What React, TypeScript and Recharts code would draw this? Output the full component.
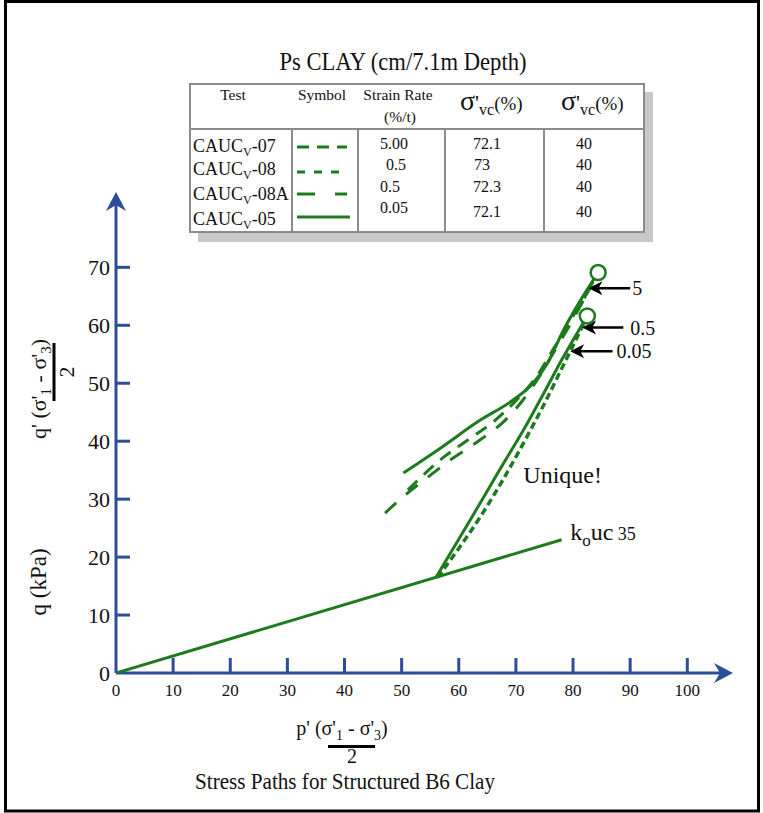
import React from 'react';
import { LineChart, Line, XAxis, YAxis, ReferenceLine, ReferenceDot } from 'recharts';

const GREEN = '#1d7a1d';
const BLUE = '#2d4c9a';
const SERIF = '"Liberation Serif", "Times New Roman", Times, serif';
const serifStyle = { fontFamily: SERIF };

// ---- axis ticks ----
const xTicks = [0, 10, 20, 30, 40, 50, 60, 70, 80, 90, 100];
const yTicks = [0, 10, 20, 30, 40, 50, 60, 70];

// ---- stress paths (p', q') ----
const koLine = [
  { x: 0, y: 0 },
  { x: 78, y: 23 },
];
const pathSolidUpper = [
  { x: 50.3, y: 34.5 },
  { x: 56.2, y: 38.4 },
  { x: 63.7, y: 43.6 },
  { x: 69.5, y: 47.1 },
  { x: 73.0, y: 50.0 },
  { x: 75.5, y: 53.4 },
  { x: 78.3, y: 59.1 },
  { x: 81.3, y: 64.3 },
  { x: 83.8, y: 68.2 },
];
const pathDashMedium = [
  { x: 51.1, y: 31.6 },
  { x: 57.3, y: 37.2 },
  { x: 62.0, y: 40.5 },
  { x: 66.0, y: 43.3 },
  { x: 70.4, y: 47.4 },
  { x: 73.5, y: 51.0 },
  { x: 76.5, y: 55.8 },
  { x: 79.5, y: 60.8 },
  { x: 82.5, y: 65.6 },
  { x: 83.8, y: 67.9 },
];
const pathDashLong = [
  { x: 47.1, y: 27.6 },
  { x: 50.0, y: 30.2 },
  { x: 55.0, y: 34.1 },
  { x: 58.0, y: 36.4 },
  { x: 63.7, y: 40.2 },
  { x: 68.1, y: 43.6 },
  { x: 71.0, y: 46.8 },
  { x: 74.0, y: 51.0 },
  { x: 77.0, y: 56.0 },
  { x: 80.0, y: 61.0 },
  { x: 83.5, y: 67.5 },
];
const pathSolidSteep = [
  { x: 56.0, y: 16.5 },
  { x: 62.0, y: 26.4 },
  { x: 67.0, y: 34.8 },
  { x: 72.0, y: 43.1 },
  { x: 75.0, y: 48.5 },
  { x: 78.0, y: 54.0 },
  { x: 80.5, y: 58.3 },
  { x: 82.0, y: 60.8 },
];
const pathDashDense = [
  { x: 56.3, y: 16.5 },
  { x: 60.0, y: 21.5 },
  { x: 64.0, y: 27.3 },
  { x: 68.0, y: 33.8 },
  { x: 71.5, y: 40.0 },
  { x: 75.0, y: 46.5 },
  { x: 78.0, y: 52.5 },
  { x: 80.5, y: 57.5 },
  { x: 82.0, y: 60.5 },
];
const peakPoints = [
  { x: 84.4, y: 69.1 },
  { x: 82.5, y: 61.6 },
];

// ---- rate arrows ----
const arrowLabels = ['5', '0.5', '0.05'];
const arrowTips = [
  { x: 82.7, y: 66.4 },
  { x: 81.6, y: 59.6 },
  { x: 79.5, y: 55.5 },
];
const arrowTails = [
  { x: 90.0, y: 66.4 },
  { x: 88.8, y: 59.6 },
  { x: 86.9, y: 55.5 },
];
const arrowLabelGaps = [2, 7, 4];

// ---- annotations ----
const uniqueAt = { x: 71.3, y: 32.8 };
const koLabelAt = { x: 79.5, y: 22.9 };

// ---- table ----
const tableTitle = 'Ps CLAY (cm/7.1m Depth)';
const testNames = ['-07', '-08', '-08A', '-05'];
const strainRates = ['5.00', '0.5', '0.5', '0.05'];
const sigmaVcA = ['72.1', '73', '72.3', '72.1'];
const sigmaVcB = ['40', '40', '40', '40'];
const symbolDashes = ['12 8', '8 9', '18 20', ''];

const rowNameBase = [152, 175, 200, 225];
const rowValBase = [149, 170, 192, 213];
const rowValBaseB = [149, 170, 192, 217];
const rowSymY = [147, 172, 194, 217];
const rateX = [394, 396, 390, 394];
const sigAX = [487, 482, 487, 487];

const XTick = (props: any) => {
  const { x, y, payload } = props;
  return (
    <g>
      {payload.value !== 0 && (
        <line x1={x} x2={x} y1={y} y2={y - 15} stroke={BLUE} strokeWidth={3} />
      )}
      <text x={x} y={y + 23} textAnchor="middle" fontSize={17} fontFamily={SERIF} style={serifStyle} fill="#111">
        {payload.value}
      </text>
    </g>
  );
};

const YTick = (props: any) => {
  const { x, y, payload } = props;
  return (
    <g>
      {payload.value !== 0 && (
        <line x1={x} x2={x + 14} y1={y} y2={y} stroke={BLUE} strokeWidth={3} />
      )}
      <text x={x - 6} y={y} dy="0.35em" textAnchor="end" fontSize={22} fontFamily={SERIF} style={serifStyle} fill="#111">
        {payload.value}
      </text>
    </g>
  );
};

const AxisArrow = (props: any) => {
  const { x1, y1, x2, y2 } = props;
  const dx = x2 - x1;
  const dy = y2 - y1;
  const len = Math.sqrt(dx * dx + dy * dy) || 1;
  const ux = dx / len;
  const uy = dy / len;
  const px = -uy;
  const py = ux;
  const L = 19;
  const W = 10;
  const notch = 6;
  const bx = x2 - ux * L;
  const by = y2 - uy * L;
  const nx = x2 - ux * (L - notch);
  const ny = y2 - uy * (L - notch);
  return (
    <g>
      <line x1={x1} y1={y1} x2={nx} y2={ny} stroke={BLUE} strokeWidth={3} />
      <polygon
        points={`${x2},${y2} ${bx + px * W},${by + py * W} ${nx},${ny} ${bx - px * W},${by - py * W}`}
        fill={BLUE}
      />
    </g>
  );
};

const makeRateArrow = (label: string, gap: number) => (props: any) => {
  const { x1, y1, x2, y2 } = props;
  const L = 14;
  const W = 7;
  return (
    <g>
      <line x1={x1} y1={y1} x2={x2 + 8} y2={y2} stroke="#000" strokeWidth={2.5} />
      <polygon points={`${x2},${y2} ${x2 + L},${y2 - W} ${x2 + L - 4},${y2} ${x2 + L},${y2 + W}`} fill="#000" />
      <text x={x1 + gap} y={y1} dy="0.35em" fontSize={20} fontFamily={SERIF} style={serifStyle} fill="#111">
        {label}
      </text>
    </g>
  );
};

const UniqueLabel = (props: any) => (
  <text x={props.cx} y={props.cy} fontSize={24} fontFamily={SERIF} style={serifStyle} fill="#111">
    Unique!
  </text>
);

const KoLabel = (props: any) => (
  <text x={props.cx} y={props.cy} fontSize={24} fontFamily={SERIF} style={serifStyle} fill="#111">
    k
    <tspan fontSize={17} dy={6}>o</tspan>
    <tspan dy={-6}>uc</tspan>
    <tspan fontSize={18}> 35</tspan>
  </text>
);

const Overlay = () => (
  <svg
    width={763}
    height={813}
    style={{ position: 'absolute', left: 0, top: 0, pointerEvents: 'none', fontFamily: SERIF }}
    fontFamily={SERIF}
  >
    <rect x={5.5} y={1.5} width={753} height={809.5} fill="none" stroke="#000" strokeWidth={3} />
    {/* table title */}
    <text x={403} y={70} textAnchor="middle" fontSize={26} textLength={247} lengthAdjust="spacingAndGlyphs" fill="#111">
      {tableTitle}
    </text>
    {/* table */}
    <rect x={198} y={92} width={455} height={150} fill="#c8c8c8" />
    <rect x={190} y={84} width={454} height={148} fill="#fff" stroke="#8c8c8c" strokeWidth={2} />
    <line x1={190} x2={644} y1={129} y2={129} stroke="#8c8c8c" strokeWidth={2} />
    {[292, 358, 445, 544].map((cx) => (
      <line key={cx} x1={cx} x2={cx} y1={129} y2={232} stroke="#8c8c8c" strokeWidth={2} />
    ))}
    <g fontSize={15.5} fill="#111">
      <text x={233} y={100} textAnchor="middle">Test</text>
      <text x={322} y={100} textAnchor="middle">Symbol</text>
      <text x={398} y={100} textAnchor="middle">Strain Rate</text>
      <text x={400} y={122} textAnchor="middle">(%/t)</text>
    </g>
    {[460, 561].map((sx) => (
      <text key={sx} x={sx} y={110} fill="#111">
        <tspan fontSize={28}>σ</tspan>
        <tspan fontSize={22}>'</tspan>
        <tspan fontSize={16} dy={5}>vc</tspan>
        <tspan fontSize={19} dy={-5}>(%)</tspan>
      </text>
    ))}
    {testNames.map((t, i) => (
      <text key={'n' + i} x={193} y={rowNameBase[i]} fontSize={18} fill="#111">
        CAUC
        <tspan fontSize={12} dy={4}>V</tspan>
        <tspan dy={-4}>{t}</tspan>
      </text>
    ))}
    {symbolDashes.map((d, i) => (
      <line
        key={'s' + i}
        x1={297}
        x2={i === 3 ? 350 : 347}
        y1={rowSymY[i]}
        y2={rowSymY[i]}
        stroke={GREEN}
        strokeWidth={3}
        strokeDasharray={d || undefined}
      />
    ))}
    {strainRates.map((v, i) => (
      <text key={'r' + i} x={rateX[i]} y={rowValBase[i]} textAnchor="middle" fontSize={16} fill="#111">{v}</text>
    ))}
    {sigmaVcA.map((v, i) => (
      <text key={'a' + i} x={sigAX[i]} y={rowValBaseB[i]} textAnchor="middle" fontSize={16} fill="#111">{v}</text>
    ))}
    {sigmaVcB.map((v, i) => (
      <text key={'b' + i} x={584} y={rowValBaseB[i]} textAnchor="middle" fontSize={16} fill="#111">{v}</text>
    ))}
    {/* y axis title */}
    <g transform="rotate(-90)" fill="#111">
      <text x={-582} y={46} textAnchor="middle" fontSize={23}>q (kPa)</text>
      <text x={-389} y={46} textAnchor="middle" fontSize={22}>
        q' (σ'
        <tspan fontSize={15} dy={5}>1</tspan>
        <tspan dy={-5}> - σ'</tspan>
        <tspan fontSize={15} dy={5}>3</tspan>
        <tspan dy={-5}>)</tspan>
      </text>
      <line x1={-401} x2={-343} y1={54} y2={54} stroke="#000" strokeWidth={3} />
      <text x={-372} y={74} textAnchor="middle" fontSize={22}>2</text>
    </g>
    {/* x axis title */}
    <text x={342} y={735} textAnchor="middle" fontSize={20} fill="#111">
      p' (σ'
      <tspan fontSize={14} dy={5}>1</tspan>
      <tspan dy={-5}> - σ'</tspan>
      <tspan fontSize={14} dy={5}>3</tspan>
      <tspan dy={-5}>)</tspan>
    </text>
    <line x1={328} x2={375} y1={746.5} y2={746.5} stroke="#000" strokeWidth={3} />
    <text x={352} y={763} textAnchor="middle" fontSize={20} fill="#111">2</text>
    <text x={345} y={789} textAnchor="middle" fontSize={24} textLength={300} lengthAdjust="spacingAndGlyphs" fill="#111">
      Stress Paths for Structured B6 Clay
    </text>
  </svg>
);

export default function App() {
  return (
    <div style={{ position: 'absolute', left: 0, top: 0, width: 763, height: 813, background: '#fff' }}>
      <LineChart width={763} height={813} margin={{ top: 192, right: 30, bottom: 110, left: 76 }}>
        <XAxis
          dataKey="x"
          type="number"
          domain={[0, 108]}
          ticks={xTicks}
          interval={0}
          axisLine={false}
          tickLine={false}
          tickSize={0}
          tickMargin={0}
          height={30}
          tick={<XTick />}
          allowDataOverflow
        />
        <YAxis
          dataKey="y"
          type="number"
          domain={[0, 83]}
          ticks={yTicks}
          interval={0}
          axisLine={false}
          tickLine={false}
          tickSize={0}
          tickMargin={0}
          width={40}
          tick={<YTick />}
          allowDataOverflow
        />
        <ReferenceLine segment={[{ x: 0, y: 0 }, { x: 108, y: 0 }]} ifOverflow="visible" shape={AxisArrow} />
        <ReferenceLine segment={[{ x: 0, y: 0 }, { x: 0, y: 83 }]} ifOverflow="visible" shape={AxisArrow} />
        <Line data={koLine} dataKey="y" type="linear" stroke={GREEN} strokeWidth={3} dot={false} isAnimationActive={false} />
        <Line data={pathSolidUpper} dataKey="y" type="monotone" stroke={GREEN} strokeWidth={3} dot={false} isAnimationActive={false} />
        <Line data={pathDashMedium} dataKey="y" type="monotone" stroke={GREEN} strokeWidth={3} strokeDasharray="13 9" dot={false} isAnimationActive={false} />
        <Line data={pathDashLong} dataKey="y" type="monotone" stroke={GREEN} strokeWidth={3} strokeDasharray="15 13" dot={false} isAnimationActive={false} />
        <Line data={pathSolidSteep} dataKey="y" type="monotone" stroke={GREEN} strokeWidth={3} dot={false} isAnimationActive={false} />
        <Line data={pathDashDense} dataKey="y" type="monotone" stroke={GREEN} strokeWidth={3.5} strokeDasharray="7 4" dot={false} isAnimationActive={false} />
        {peakPoints.map((p, i) => (
          <ReferenceDot key={'pk' + i} x={p.x} y={p.y} r={7.5} fill="#fff" stroke={GREEN} strokeWidth={2.5} ifOverflow="visible" />
        ))}
        {arrowLabels.map((lab, i) => (
          <ReferenceLine
            key={'ar' + i}
            segment={[arrowTails[i], arrowTips[i]]}
            ifOverflow="visible"
            shape={makeRateArrow(lab, arrowLabelGaps[i])}
          />
        ))}
        <ReferenceDot x={uniqueAt.x} y={uniqueAt.y} r={1} ifOverflow="visible" shape={UniqueLabel} />
        <ReferenceDot x={koLabelAt.x} y={koLabelAt.y} r={1} ifOverflow="visible" shape={KoLabel} />
      </LineChart>
      <Overlay />
    </div>
  );
}
